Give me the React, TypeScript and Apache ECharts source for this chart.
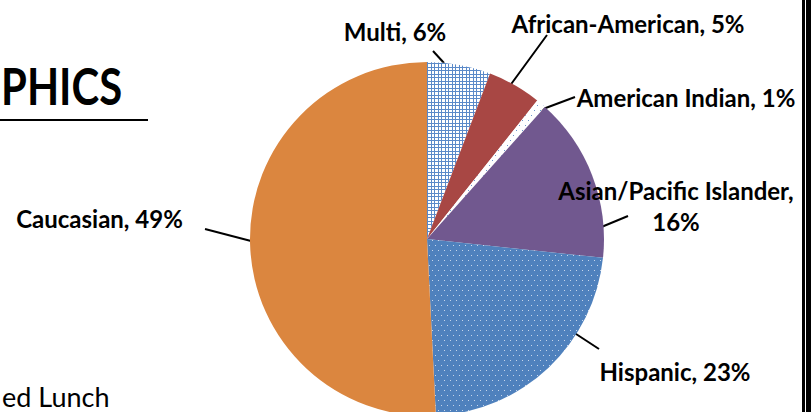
import React, { useEffect, useRef } from 'react';
import * as echarts from 'echarts';

// ---- data ----
const categories = ['Multi', 'African-American', 'American Indian', 'Asian/Pacific Islander', 'Hispanic', 'Caucasian'];
// slice sizes (percent of the circle)
const sliceValues = [5.8, 4.9, 0.9, 15.1, 22.5, 50.8];
// percentages printed in the data labels
const labelPercents = [6, 5, 1, 16, 23, 49];
const titleText = 'PHICS';
const footText = 'ed Lunch';

// ---- layout / style ----
const labelLayouts = [
  { x: 395, y: 31, line: [[444, 63], [433, 51]] },
  { x: 628, y: 23.5, line: [[509, 87], [547, 35]] },
  { x: 686, y: 97, line: [[535, 112], [575, 97]] },
  { x: 676, y: 205.5, line: [[599, 228], [628, 216]] },
  { x: 675, y: 371, line: [[573, 332], [599, 349]] },
  { x: 99.5, y: 218, line: [[251, 241], [205, 229]] },
];

function makeTile(w: number, h: number, bg: string, fg: string, rects: number[][]) {
  const c = document.createElement('canvas');
  c.width = w;
  c.height = h;
  const ctx = c.getContext('2d')!;
  ctx.fillStyle = bg;
  ctx.fillRect(0, 0, w, h);
  ctx.fillStyle = fg;
  rects.forEach(([x, y, rw, rh]) => ctx.fillRect(x, y, rw, rh));
  return c;
}

export default function App() {
  const ref = useRef<HTMLDivElement>(null);
  useEffect(() => {
    if (!ref.current) return;
    const chart = echarts.init(ref.current, null, { renderer: 'svg' });

    const gridTile = makeTile(7, 7, '#ffffff', '#5B8AC9', [
      [0, 0, 1, 7], [4, 0, 1, 7], [0, 0, 7, 1], [0, 4, 7, 1],
    ]);
    const dotBlueTile = makeTile(6, 10, '#4F81BD', '#C6D6EC', [[0, 0, 1, 1], [3, 5, 1, 1]]);
    const dotWhiteTile = makeTile(6, 10, '#ffffff', '#6C95CA', [[0, 0, 1, 1], [3, 5, 1, 1]]);
    const pat = (img: HTMLCanvasElement) => ({ image: img, repeat: 'repeat', imageWidth: img.width, imageHeight: img.height });

    const fills: any[] = [
      pat(gridTile),
      '#A84744',
      pat(dotWhiteTile),
      '#71588F',
      pat(dotBlueTile),
      '#DB863F',
    ];

    chart.setOption({
      animation: false,
      backgroundColor: '#ffffff',
      graphic: [
        {
          type: 'text',
          x: 1,
          y: 85,
          scaleX: 0.82,
          style: {
            text: titleText,
            font: 'bold 51px Lato',
            fill: '#000',
            textAlign: 'left',
            textVerticalAlign: 'middle',
          },
        },
        { type: 'rect', shape: { x: 0, y: 119, width: 148, height: 2 }, style: { fill: '#000' } },
        {
          type: 'text',
          x: 2,
          y: 396,
          style: {
            text: footText,
            font: '27px Lato',
            lineHeight: 22,
            fill: '#000',
            textAlign: 'left',
            textVerticalAlign: 'middle',
          },
        },
        { type: 'rect', shape: { x: 802, y: 0, width: 3, height: 412 }, style: { fill: '#000' } },
        { type: 'rect', shape: { x: 806, y: 0, width: 5, height: 412 }, style: { fill: '#000' } },
      ],
      series: [
        {
          type: 'pie',
          center: [427, 239],
          radius: 177,
          startAngle: 90,
          clockwise: true,
          silent: true,
          avoidLabelOverlap: false,
          data: categories.map((name, i) => ({
            name,
            value: sliceValues[i],
            itemStyle: { color: fills[i] },
          })),
          itemStyle: { borderWidth: 0 },
          label: {
            show: true,
            formatter: (p: any) => {
              const sep = p.name.length > 18 ? ',\n' : ', ';
              return p.name + sep + labelPercents[p.dataIndex] + '%';
            },
            color: '#000',
            fontFamily: 'Lato',
            fontWeight: 'bold',
            fontSize: 24,
            lineHeight: 31,
            align: 'center',
          },
          labelLine: {
            show: true,
            lineStyle: { color: '#000', width: 2 },
          },
          labelLayout: (params: any) => {
            const L = labelLayouts[params.dataIndex];
            const [a, b] = L.line;
            return {
              x: L.x,
              y: L.y,
              align: 'center',
              verticalAlign: 'middle',
              labelLinePoints: [a, [(a[0] + b[0]) / 2, (a[1] + b[1]) / 2], b],
            };
          },
        },
      ],
    });
    return () => chart.dispose();
  }, []);

  return (
    <div
      ref={ref}
      style={{ position: 'fixed', left: 0, top: 0, width: 811, height: 412 }}
    />
  );
}
